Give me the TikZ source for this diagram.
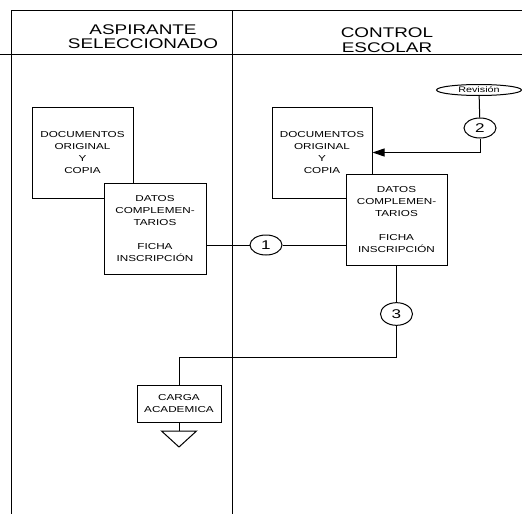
\documentclass[tikz,border=0pt]{standalone}
\usepackage{fontspec}
\setmainfont{Liberation Sans}[FakeStretch=1.35]
\usetikzlibrary{arrows.meta,shapes.geometric}

\tikzset{
  docbox/.style={draw, fill=white, minimum width=75.75pt, minimum height=68.25pt, inner sep=0pt, align=center, font=\fontsize{6.5}{9}\selectfont},
  cargabox/.style={draw, fill=white, minimum width=63pt, minimum height=27.75pt, inner sep=0pt, align=center, font=\fontsize{6.5}{9}\selectfont},
  connector/.style={draw, fill=white, ellipse, minimum width=24pt, minimum height=15pt, inner sep=0pt, font=\fontsize{9.5}{9.5}\selectfont},
  terminal/.style={draw, fill=white, ellipse, minimum width=63.75pt, minimum height=8.25pt, inner sep=0pt, font=\fontsize{6}{6}\selectfont},
  header/.style={inner sep=0pt, align=center}
}

\begin{document}
\begin{tikzpicture}[x=0.75pt,y=0.75pt,yscale=-1,xscale=1,line width=0.75pt]
        \path[use as bounding box] (0,0) rectangle (522,514);

        %Lanes
        \draw (11,514) -- (11,10) -- (522,10) ;
        \draw (0,54) -- (522,54) ;
        \draw (232,10) -- (232,514) ;

        % Header Nodes
        \node (hdAsp) [header, font=\fontsize{10.5}{10.5}\selectfont] at (143,37) {ASPIRANTE\\SELECCIONADO};
        \node (hdCtl) [header, font=\fontsize{10.5}{11.6}\selectfont] at (387,40) {CONTROL\\ESCOLAR};

        %Documents, aspirante
        \node (docL) [docbox] at (82.5,152.5) {DOCUMENTOS\\ORIGINAL\\Y\\COPIA};
        \node (datL) [docbox, minimum width=76.5pt] at (155,228.5) {DATOS\\COMPLEMEN-\\TARIOS\\[9pt]FICHA\\INSCRIPCIÓN};

        %Documents, control escolar
        \node (docR) [docbox, minimum width=75pt] at (322,152.5) {DOCUMENTOS\\ORIGINAL\\Y\\COPIA};
        \node (datR) [docbox] at (396.5,219.5) {DATOS\\COMPLEMEN-\\TARIOS\\[9pt]FICHA\\INSCRIPCIÓN};

        %Connectors
        \node (c1) [connector] at (266,245) {1};
        \node (rev) [terminal] at (479,90) {Revisión};
        \node (c2) [connector] at (480,128) {2};
        \node (c3) [connector, minimum height=17pt] at (396.5,314) {3};
        \coordinate (j3) at (179,357);

        %Carga academica
        \node (carga) [cargabox] at (179,403.5) {CARGA\\ACADEMICA};
        \coordinate (tri) at (179,431);

        %Straight Lines
        \draw (c1.west) -- (c1.west -| datL.east) ;
        \draw (c1.east) -- (c1.east -| datR.west) ;
        \draw (rev) -- (c2) ;
        \draw [-{Triangle[length=9pt,width=6pt]}] (c2) |- (docR.east) ;
        \draw (datR) -- (c3) ;
        \draw (c3) |- (j3) -- (carga) ;
        \draw (carga) -- (tri) ;

        %Shape: Triangle
        \draw (tri) ++(-17.5,0) -- ++(35,0) -- ++(-17.5,16) -- cycle ;

    \end{tikzpicture}
\end{document}
